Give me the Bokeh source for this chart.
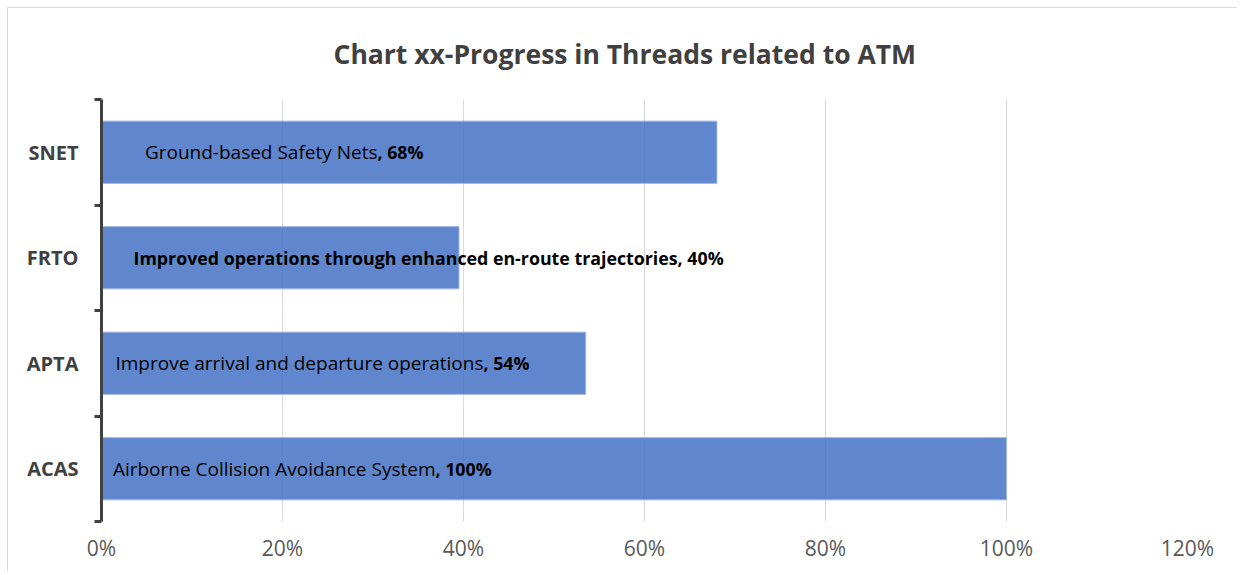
from bokeh.plotting import figure
from bokeh.models import Range1d, FixedTicker, NumeralTickFormatter, Title, ColumnDataSource
from bokeh.core.properties import value
from bokeh.embed import file_html
from bokeh.resources import INLINE

# ---- data ----
categories = ["ACAS", "APTA", "FRTO", "SNET"]
progress = [1.00, 0.535, 0.395, 0.68]
thread_names = [
    "Airborne Collision Avoidance System",
    "Improve arrival and departure operations",
    "Improved operations through enhanced en-route trajectories",
    "Ground-based Safety Nets",
]
percent_labels = ["100%", "54%", "40%", "68%"]
fully_bold = [False, False, True, False]
x_ticks = [0, 0.2, 0.4, 0.6, 0.8, 1.0, 1.2]
title_text = "Chart xx-Progress in Threads related to ATM"

# ---- styling / label placement (pixels from bar base, where the bold part starts) ----
join_offsets = [334, 382, 32, 276]

FONT = "Open Sans"
DARK = "#404040"
GREY = "#595959"

ys = [i + 0.5 for i in range(len(categories))]
normal_txt = ["" if b else n for n, b in zip(thread_names, fully_bold)]
bold_txt = [(n + ", " + p) if b else (", " + p) for n, p, b in zip(thread_names, percent_labels, fully_bold)]

src = ColumnDataSource(dict(y=ys, v=progress, x0=[0] * len(ys), nt=normal_txt, bt=bold_txt,
                            jo=join_offsets))

p = figure(x_range=Range1d(0, 1.2), y_range=Range1d(0, len(categories)),
           frame_width=1086, frame_height=422,
           min_border_left=93, min_border_right=50, min_border_top=91, min_border_bottom=50,
           output_backend="svg", toolbar_location=None)
p.styles = {"margin-left": "7px", "margin-top": "7px",
            "border-left": "1px solid #d9d9d9", "border-top": "1px solid #d9d9d9"}
p.outline_line_color = None
p.background_fill_color = "white"
p.border_fill_color = "white"

t = Title(text=title_text, align="left", offset=232, standoff=52, vertical_align="top",
          text_font=FONT, text_font_size="26.5px", text_font_style="bold", text_color=DARK)
p.add_layout(t, "above")

p.hbar(y="y", right="v", left=0, height=0.59, source=src,
       fill_color="#4472C4", fill_alpha=0.85, line_color="#9db5e2", line_width=1)

# normal part ends exactly where the bold part starts
p.text(x="x0", y="y", text="nt", x_offset="jo", source=src,
       text_font=value(FONT), text_font_size="19px", text_color="black",
       text_align="right", text_baseline="middle")
p.text(x="x0", y="y", text="bt", x_offset="jo", source=src,
       text_font=value(FONT), text_font_size="17.8px", text_font_style="bold", text_color="black",
       text_align="left", text_baseline="middle")

# grid
p.xgrid.grid_line_color = "#d9d9d9"
p.xgrid.ticker = FixedTicker(ticks=x_ticks)
p.ygrid.grid_line_color = None

# x axis
xa = p.xaxis[0]
xa.ticker = FixedTicker(ticks=x_ticks)
xa.formatter = NumeralTickFormatter(format="0%")
xa.axis_line_color = None
xa.major_tick_line_color = None
xa.minor_tick_line_color = None
xa.major_tick_out = 0
xa.major_label_standoff = 12
xa.major_label_text_font = FONT
xa.major_label_text_font_size = "21px"
xa.major_label_text_color = GREY

# y axis
ya = p.yaxis[0]
ya.ticker = FixedTicker(ticks=ys, minor_ticks=list(range(len(categories) + 1)))
ya.major_label_overrides = {y: c for y, c in zip(ys, categories)}
ya.axis_line_color = DARK
ya.axis_line_width = 3
ya.major_tick_line_color = None
ya.major_tick_out = 0
ya.major_tick_in = 0
ya.minor_tick_line_color = DARK
ya.minor_tick_line_width = 3
ya.minor_tick_out = 7
ya.minor_tick_in = 0
ya.major_label_standoff = 16
ya.major_label_text_font = FONT
ya.major_label_text_font_size = "20px"
ya.major_label_text_font_style = "bold"
ya.major_label_text_color = DARK

open("out.html", "w").write(file_html(p, INLINE))
